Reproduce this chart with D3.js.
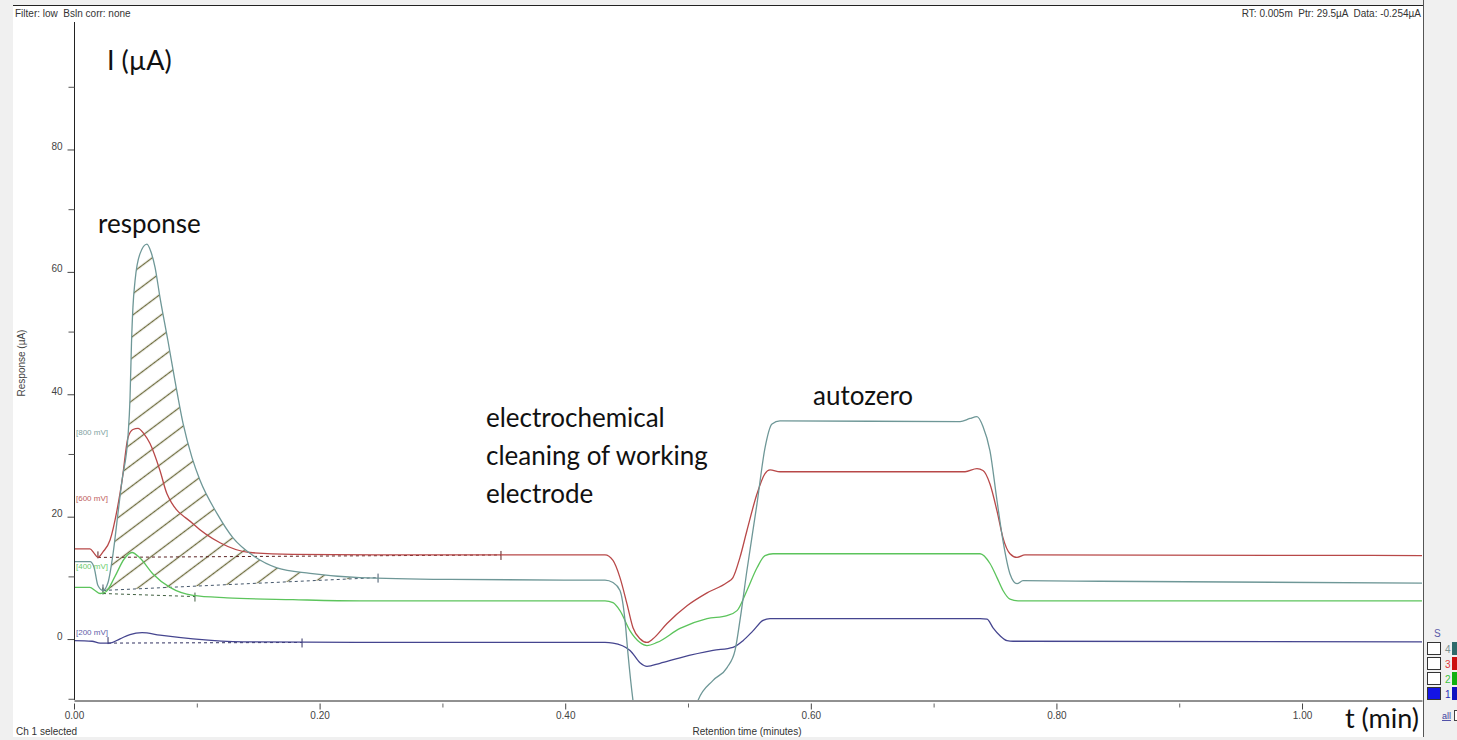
<!DOCTYPE html>
<html><head><meta charset="utf-8">
<script src="https://cdn.jsdelivr.net/npm/d3@7"></script>
<style>
html,body{margin:0;padding:0;background:#f0f0f0;}
svg{display:block;}
</style></head><body>
<svg id="c" width="1457" height="740"></svg>
<script>
// ---------------- data ----------------
const yTicksMajor = [0, 20, 40, 60, 80];
const yTicksMinor = [-10, 10, 30, 50, 70, 90];
const xTicksMajor = [0, 0.2, 0.4, 0.6, 0.8, 1.0];
const xTicksMinor = [0.1, 0.3, 0.5, 0.7, 0.9];
const xTickLabels = ["0.00", "0.20", "0.40", "0.60", "0.80", "1.00"];

// [retention time (min), response (µA)]
const ch800 = [[0,12.4],[0.013,12.4],[0.0163,11.5],[0.0195,8.5],[0.0236,7.7],[0.0277,9.0],[0.0318,13.7],[0.0358,20.3],[0.0391,25.7],[0.044,33],[0.0456,39],[0.0468,48],[0.048,54],[0.0497,58.3],[0.0537,62.7],[0.0594,64.3],[0.0627,63],[0.066,60.5],[0.07,55.6],[0.0765,48.5],[0.0822,42],[0.0888,35],[0.0961,29.4],[0.1026,25.7],[0.1164,20.3],[0.1295,16.3],[0.1458,13.4],[0.1653,11.4],[0.1922,10.5],[0.2329,9.8],[0.3062,9.5],[0.3998,9.4],[0.4324,9.4],[0.4389,9.0],[0.4446,7.7],[0.4487,2.8],[0.4511,-2.6],[0.4552,-10.3],[0.465,-20],[0.4813,-25],[0.4976,-18],[0.5081,-10.3],[0.5204,-7],[0.5318,-4.9],[0.5383,-2.1],[0.5423,2.8],[0.548,11],[0.5562,21.9],[0.5627,31],[0.5684,34.9],[0.5749,35.4],[0.7215,35.3],[0.7296,35.8],[0.7353,36.1],[0.7402,34.5],[0.7459,30.5],[0.7516,22.4],[0.7565,15.8],[0.7622,10.4],[0.7679,8.8],[0.7728,9.3],[0.8355,9.2],[1.0977,8.9]];
const ch600 = [[0,14.5],[0.013,14.5],[0.0163,13.8],[0.0195,13.1],[0.0236,14],[0.0293,15.9],[0.035,20.8],[0.0375,23.6],[0.0391,25.6],[0.044,32.7],[0.048,34],[0.0521,34.2],[0.057,33.3],[0.0619,31.7],[0.07,27.3],[0.0757,23.5],[0.0969,18.6],[0.1189,15.5],[0.1433,13.9],[0.1783,13.6],[0.2655,13.5],[0.4324,13.5],[0.4389,12.6],[0.4446,9.8],[0.4503,5.5],[0.4552,1.6],[0.4609,-0.2],[0.4666,-0.8],[0.4715,-0.2],[0.4829,2.3],[0.4992,5.2],[0.5155,7.3],[0.5318,9.0],[0.5366,9.8],[0.5423,13.1],[0.548,17.5],[0.5562,23.5],[0.5627,26.8],[0.5668,27.4],[0.5749,27.1],[0.7256,27.1],[0.7353,27.6],[0.7402,27.3],[0.7459,25.1],[0.7516,20.7],[0.7565,16.3],[0.7622,13.7],[0.7679,13.1],[0.7744,13.5],[1.0977,13.4]];
const ch400 = [[0,8.2],[0.013,8.2],[0.0171,7.7],[0.0212,7.2],[0.026,7.5],[0.0334,10],[0.0407,12.8],[0.0472,13.9],[0.0537,13],[0.0643,10.4],[0.0782,8.2],[0.0969,6.9],[0.1246,6.5],[0.1783,6.2],[0.2329,6.0],[0.4324,6.0],[0.4389,5.7],[0.4446,4.4],[0.4528,1.1],[0.4609,-0.8],[0.4666,-1.3],[0.4748,-0.8],[0.4935,1.5],[0.5155,3.1],[0.5318,3.6],[0.5399,4.4],[0.548,7.7],[0.5562,11.4],[0.5627,13.4],[0.5692,13.7],[0.7378,13.7],[0.7459,12.1],[0.7516,9.8],[0.7565,7.7],[0.7622,6.3],[0.7704,6.0],[1.0977,6.0]];
const ch200 = [[0,-0.5],[0.0147,-0.6],[0.0212,-0.9],[0.0293,-0.9],[0.0375,-0.2],[0.0456,0.5],[0.0554,0.8],[0.07,0.4],[0.0969,-0.2],[0.1376,-0.7],[0.2655,-0.8],[0.4324,-0.8],[0.4389,-0.9],[0.4528,-2.1],[0.4609,-4.1],[0.4666,-4.7],[0.4772,-4.2],[0.4935,-3.3],[0.5204,-2.1],[0.5366,-1.6],[0.5448,-0.5],[0.5529,1.1],[0.5611,2.8],[0.5668,3.1],[0.7378,3.1],[0.7435,3.0],[0.7484,1.6],[0.7541,0.3],[0.7598,-0.5],[0.7647,-0.6],[1.0977,-0.7]];

// integration baselines [start, end]
const base800 = [[0.0236,7.7],[0.2476,9.8]];
const base600 = [[0.0195,13.1],[0.3477,13.5]];
const base400 = [[0.0236,7.2],[0.0985,6.7]];
const base200 = [[0.0277,-0.9],[0.1857,-0.8]];

const channelNames = ["[800 mV]", "[600 mV]", "[400 mV]", "[200 mV]"];
const channelLabelAt = [33.1, 22.3, 11.2, 0.4];
const legendIds = ["4", "3", "2", "1"];

// ---------------- drawing ----------------
const svg = d3.select("#c");
const FONT = "'Liberation Sans', Arial, sans-serif";
const ANN = "Lato, 'Open Sans', sans-serif";

const x = d3.scaleLinear().domain([0, 1.0977]).range([74, 1422]);
const y = d3.scaleLinear().domain([-10.2, 103.2]).range([700, 6]);

const colors = {c800: "#6e9797", c600: "#b84848", c400: "#5cc45c", c200: "#45458f"};
const dashCol = {c800: "#44566a", c600: "#5a2020", c400: "#3f5f3f", c200: "#303060"};

// panels
svg.append("rect").attr("width", 1457).attr("height", 740).attr("fill", "#f0f0f0");
svg.append("rect").attr("x", 13).attr("y", 5).attr("width", 1410).attr("height", 732).attr("fill", "#fff");
svg.append("line").attr("x1", 13).attr("x2", 1424).attr("y1", 5.5).attr("y2", 5.5).attr("stroke", "#222");
svg.append("line").attr("x1", 1423.5).attr("x2", 1423.5).attr("y1", 0).attr("y2", 737).attr("stroke", "#555");

const defs = svg.append("defs");
defs.append("clipPath").attr("id", "plotclip").append("rect")
  .attr("x", 74).attr("y", 6).attr("width", 1348).attr("height", 694);
const pat = defs.append("pattern").attr("id", "hatch").attr("patternUnits", "userSpaceOnUse")
  .attr("width", 12).attr("height", 17).attr("patternTransform", "rotate(-37)");
pat.append("line").attr("x1", 0).attr("x2", 12).attr("y1", 8.5).attr("y2", 8.5)
  .attr("stroke", "#6e6c3e").attr("stroke-width", 1.3);

const plot = svg.append("g").attr("clip-path", "url(#plotclip)");

// hatched area between 800 mV trace and its baseline
const bl = d3.scaleLinear().domain([base800[0][0], base800[1][0]]).range([base800[0][1], base800[1][1]]);
const segPts = ch800.filter(d => d[0] > base800[0][0] && d[0] < base800[1][0]);
const areaPts = [base800[0]].concat(segPts, [[base800[1][0], base800[1][1]]]);
const area = d3.area().x(d => x(d[0])).y0(d => y(bl(d[0]))).y1(d => y(Math.max(d[1], bl(d[0])))).curve(d3.curveMonotoneX);
defs.append("clipPath").attr("id", "hatchclip").append("path").attr("d", area(areaPts));
plot.append("rect").attr("clip-path", "url(#hatchclip)")
  .attr("x", 74).attr("y", 6).attr("width", 400).attr("height", 694).attr("fill", "url(#hatch)");

// baselines
const lineGen = d3.line().x(d => x(d[0])).y(d => y(d[1]));
[[base800, "c800"], [base600, "c600"], [base400, "c400"], [base200, "c200"]].forEach(([b, k]) => {
  plot.append("path").attr("d", lineGen(b)).attr("fill", "none")
    .attr("stroke", dashCol[k]).attr("stroke-width", 1).attr("stroke-dasharray", "3,3");
  plot.append("line").attr("x1", x(b[0][0])).attr("x2", x(b[0][0]))
    .attr("y1", y(b[0][1]) - 6).attr("y2", y(b[0][1]) + 1).attr("stroke", dashCol[k]).attr("stroke-width", 1);
  plot.append("line").attr("x1", x(b[1][0])).attr("x2", x(b[1][0]))
    .attr("y1", y(b[1][1]) - 4).attr("y2", y(b[1][1]) + 5).attr("stroke", dashCol[k]).attr("stroke-width", 1);
});

// traces
const curve = d3.line().x(d => x(d[0])).y(d => y(d[1])).curve(d3.curveMonotoneX);
[[ch200, "c200"], [ch400, "c400"], [ch600, "c600"], [ch800, "c800"]].forEach(([s, k]) => {
  plot.append("path").attr("d", curve(s)).attr("fill", "none")
    .attr("stroke", colors[k]).attr("stroke-width", 1.3).attr("stroke-linejoin", "round");
});

// channel labels
const labCols = ["#7fa3a3", "#c06060", "#6ccc6c", "#5e5ea8"];
channelNames.forEach((n, i) => {
  svg.append("text").attr("x", 76).attr("y", y(channelLabelAt[i])).text(n)
    .attr("font-family", FONT).attr("font-size", 8).attr("fill", labCols[i]);
});

// axes
const gy = svg.append("g").attr("transform", "translate(74.5,0)")
  .call(d3.axisLeft(y).tickValues(yTicksMajor).tickSize(7).tickSizeOuter(0).tickPadding(5).tickFormat(d3.format("d")));
gy.select(".domain").remove();
gy.append("line").attr("x1", 0).attr("x2", 0).attr("y1", 22).attr("y2", 700).attr("stroke", "#222");
gy.selectAll(".tick line").attr("transform", "translate(0,1.5)").attr("stroke", "#444");
gy.selectAll(".tick text").attr("dy", "0.15em").attr("font-family", FONT).attr("font-size", 10).attr("fill", "#444");
const gym = svg.append("g").attr("transform", "translate(74.5,0)")
  .call(d3.axisLeft(y).tickValues(yTicksMinor).tickSize(6).tickFormat(""));
gym.select(".domain").remove();
gym.selectAll(".tick line").attr("stroke", "#555");

const gx = svg.append("g").attr("transform", "translate(0,700.5)")
  .call(d3.axisBottom(x).tickValues(xTicksMajor).tickSizeOuter(0).tickFormat((d, i) => xTickLabels[i]));
gx.select(".domain").attr("stroke", "#222");
gx.selectAll(".tick line").attr("y1", 3).attr("y2", 9).attr("stroke", "#444");
gx.selectAll(".tick text").attr("y", 18.5).attr("dy", 0).attr("font-family", FONT).attr("font-size", 10).attr("fill", "#444");
const gxm = svg.append("g").attr("transform", "translate(0,700.5)")
  .call(d3.axisBottom(x).tickValues(xTicksMinor).tickFormat(""));
gxm.select(".domain").remove();
gxm.selectAll(".tick line").attr("y1", 3).attr("y2", 7).attr("stroke", "#666");

// small texts
const small = (t, xx, yy, anchor, col) => svg.append("text").attr("x", xx).attr("y", yy).text(t)
  .attr("font-family", FONT).attr("font-size", 10).attr("fill", col || "#333").attr("text-anchor", anchor || "start");
small("Filter: low  Bsln corr: none", 15, 17).style("white-space", "pre");
small("RT: 0.005m  Ptr: 29.5µA  Data: -0.254µA", 1421, 17, "end").style("white-space", "pre");
small("Ch 1 selected", 16, 735);
small("Retention time (minutes)", 747, 735, "middle");
svg.append("text").attr("transform", "translate(25,363) rotate(-90)").attr("text-anchor", "middle")
  .text("Response (µA)").attr("font-family", FONT).attr("font-size", 10).attr("fill", "#444");

// annotations
const ann = (t, xx, yy, fs) => svg.append("text").attr("x", xx).attr("y", yy).text(t)
  .attr("font-family", ANN).attr("font-size", fs).attr("fill", "#111");
ann("I (µA)", 107, 70, 27);
ann("response", 98, 233, 26);
ann("electrochemical", 486, 427, 26);
ann("cleaning of working", 486, 465, 26);
ann("electrode", 486, 503, 26);
ann("autozero", 813, 405, 26);
ann("t (min)", 1345, 728, 27);

// right legend
const lg = svg.append("g");
lg.append("text").attr("x", 1434).attr("y", 637).text("S").attr("font-family", FONT).attr("font-size", 10).attr("fill", "#5a5aa8");
const numCols = ["#7a9090", "#e03a3a", "#3cc43c", "#2a2ab8"];
const barCols = ["#2f6a6a", "#cc1010", "#10b010", "#1010c0"];
legendIds.forEach((id, i) => {
  const yy = 642 + i * 15;
  lg.append("rect").attr("x", 1427.5).attr("y", yy + 0.5).attr("width", 13).attr("height", 12)
    .attr("fill", i === 3 ? "#1414e6" : "#fff").attr("stroke", "#333");
  lg.append("text").attr("x", 1445).attr("y", yy + 11).text(id).attr("font-family", FONT).attr("font-size", 10).attr("fill", numCols[i]);
  lg.append("rect").attr("x", 1452).attr("y", yy).attr("width", 5).attr("height", 13).attr("fill", barCols[i]);
});
lg.append("text").attr("x", 1442).attr("y", 719).text("all").attr("font-family", FONT).attr("font-size", 9)
  .attr("fill", "#4040a0").attr("text-decoration", "underline");
lg.append("rect").attr("x", 1454.5).attr("y", 710.5).attr("width", 5).attr("height", 10).attr("fill", "#fff").attr("stroke", "#444");
</script>
</body></html>
